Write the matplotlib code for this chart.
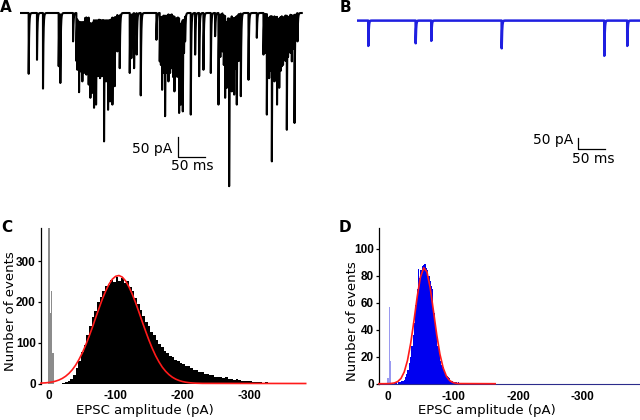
"""Spontaneous EPSC traces (A, B) and amplitude histograms (C, D)."""
import matplotlib.pyplot as plt
import numpy as np

plt.rcParams['font.family'] = 'DejaVu Sans'
plt.rcParams['axes.unicode_minus'] = False

# --- trace A: resolved event onsets (ms) and peak amplitudes (pA)
A_EVENT_MS = [15.8, 30.9, 41.8, 70.3, 73.3, 96.4, 104.2, 107.3, 110.3, 113.3,
              116.4, 120.6, 124.8, 127.9, 130.9, 134.5, 138.2, 141.8, 145.5, 149.1,
              152.7, 156.4, 160.0, 163.6, 167.9, 172.1, 176.9, 181.2, 199.4, 202.4,
              207.3, 212.1, 219.4, 247.9, 253.9, 258.2, 263.6, 269.7, 275.8, 280.6,
              284.8, 289.1, 292.1, 295.8, 300.0, 310.3, 318.2, 325.5, 333.3, 346.7,
              354.5, 360.6, 367.9, 372.7, 375.8, 380.0, 384.8, 389.1, 393.9, 401.2,
              415.2, 430.3, 442.4, 448.5, 452.7, 457.6, 462.4, 467.0, 471.0, 475.8,
              480.0, 484.8, 489.1, 493.9, 498.8, 504.2]
A_EVENT_PA = [152, 117, 189, 133, 175, 71, 142, 198, 146, 171,
              150, 154, 179, 212, 200, 237, 229, 158, 163, 158,
              321, 171, 242, 221, 229, 183, 96, 138, 150, 113,
              138, 104, 206, 67, 121, 192, 258, 171, 138, 196,
              154, 250, 229, 246, 71, 254, 104, 158, 142, 150,
              58, 229, 96, 212, 187, 433, 196, 204, 229, 208,
              167, 62, 104, 254, 163, 371, 171, 229, 187, 133,
              113, 292, 79, 121, 275, 71]
# unresolved events packed inside the bursts
A_BURST_MS = [102.5, 105.8, 108.8, 111.8, 114.9, 118.5, 122.7, 126.4, 129.4, 132.7,
              136.4, 140.0, 143.7, 147.3, 150.9, 154.6, 158.2, 161.8, 165.8, 170.0,
              174.5, 179.0, 256.0, 261.0, 266.6, 272.7, 278.2, 282.7, 287.0, 290.6,
              294.0, 298.0, 364.0, 370.3, 374.2, 378.0, 382.4, 387.0, 391.5, 397.5,
              445.5, 450.6, 455.2, 460.0, 464.7, 469.0, 473.4, 477.9, 482.4, 487.0,
              491.5, 496.3]
A_BURST_PA = [120, 125, 130, 130, 130, 135, 140, 145, 150, 150,
              150, 150, 145, 150, 150, 150, 150, 145, 140, 130,
              90, 80, 130, 150, 150, 150, 160, 160, 160, 160,
              150, 100, 110, 130, 150, 150, 150, 150, 140, 120,
              100, 140, 145, 150, 150, 150, 145, 130, 120, 110,
              100, 90]
A_LENGTH_MS = 512

# --- trace B
B_EVENT_MS = [21.2, 110.1, 139.4, 271.5, 464.0, 507.1]
B_EVENT_PA = [115, 103, 92, 126, 160, 115]
B_LENGTH_MS = 531

# --- histogram C (4 pA bins starting at -20 pA)
C_BIN_START = -20
C_BIN_WIDTH = -4
C_COUNTS = [2, 4, 6, 12, 22, 38, 55, 78, 95, 120,
            140, 162, 178, 200, 212, 226, 238, 242, 255, 248,
            262, 252, 258, 246, 252, 236, 226, 210, 196, 180,
            166, 152, 140, 126, 118, 106, 98, 90, 80, 76,
            68, 66, 58, 55, 50, 48, 44, 42, 38, 34,
            32, 28, 28, 24, 23, 20, 21, 17, 16, 15,
            14, 15, 11, 11, 9, 10, 8, 7, 7, 5,
            6, 4, 4, 3, 3, 2, 3, 2, 1, 2,
            1, 1, 1, 0, 1, 0, 1, 0]
C_NOISE_PA = [0, -2, -4, -6]
C_NOISE_COUNTS = [385, 173, 227, 75]
C_FIT_PA = [12, 5, 0, -5, -10, -15, -20, -25, -30, -35, -40, -45, -50, -55, -60,
            -65, -70, -75, -80, -85, -90, -95, -100, -105, -110, -115, -120, -125,
            -130, -135, -140, -145, -150, -155, -160, -165, -170, -175, -180, -185,
            -190, -195, -200, -205, -210, -215, -220, -230, -385]
C_FIT_N = [1.0, 1.6, 2.5, 3.8, 5.8, 8.6, 12.5, 17.8, 24.8, 33.8, 45, 58.8, 75, 93.8, 115,
           137.3, 161, 184.2, 207, 226.6, 243.5, 255.9, 263, 265, 261, 251.5, 237, 218.9,
           198, 174.9, 151, 128.1, 106, 86, 68, 53, 40, 29.9, 21.8, 15.5,
           10.8, 7.4, 4.9, 3.2, 2.0, 1.3, 0.8, 0.3, 0]

# --- histogram D (2 pA bins starting at -10 pA)
D_BIN_START = -10
D_BIN_WIDTH = -2
D_COUNTS = [0.5, 1, 0, 1, 1, 2, 2, 3, 5, 7,
            10, 15, 20, 28, 36, 45, 58, 70, 85, 78,
            84, 87, 88, 89, 86, 84, 80, 76, 72, 70,
            52, 44, 36, 28, 22, 17, 14, 12, 9, 8,
            6, 5, 4, 2, 2, 1, 1, 1, 0, 1]
D_NOISE_PA = [0, -2, -4.2]
D_NOISE_COUNTS = [4, 57, 17]
D_FIT_PA = [14, 5, 0, -5, -10, -15, -20, -25, -30, -35, -40, -45, -50, -55, -60,
            -65, -70, -75, -80, -85, -90, -95, -100, -105, -110, -165]
D_FIT_N = [0, 0, 0.05, 0.2, 0.56, 1.6, 3.9, 8.7, 17.2, 30.1, 46.7, 64.5, 79, 85.8, 82.8,
           70.9, 53.9, 36.4, 21.8, 11.6, 5.5, 2.3, 0.85, 0.3, 0.1, 0]

W, H = 640, 420
fig = plt.figure(figsize=(W / 100, H / 100), dpi=100)
TICK_FONT = {'family': 'Liberation Sans', 'weight': 'bold', 'size': 8.5}


def px_axes(left, top, right, bottom):
    ax = fig.add_axes([left / W, 1 - bottom / H, (right - left) / W, (bottom - top) / H])
    ax.patch.set_alpha(0)
    return ax


def build_trace(times, amps, length, tau=0.8):
    t = np.arange(0, length, 0.1)
    y = np.zeros_like(t)
    for te, a in zip(times, amps):
        after = t >= te
        y[after] = np.maximum(y[after], a * np.exp(-(t[after] - te) / tau))
    return t, -y


def trace_panel(ax, times, amps, length, color, lw, bar_x, bar_y):
    t, y = build_trace(times, amps, length)
    ax.plot(t, y, color=color, lw=lw)
    ax.plot([bar_x, bar_x, bar_x + 50], [bar_y + 50, bar_y, bar_y],
            color='black', lw=0.9, clip_on=False)
    ax.axis('off')


def hist_panel(ax, start, width, counts, color, noise_x, noise_n, noise_color,
               fit_x, fit_n):
    centres = [start + width * (i + 0.5) for i in range(len(counts))]
    ax.bar(centres, counts, width=abs(width), color=color, linewidth=0)
    ax.bar(noise_x, noise_n, width=2.1, color=noise_color, linewidth=0)
    ax.plot(fit_x, fit_n, color='#ff1a1a', lw=1.2, clip_on=False, zorder=4)
    for side in ('top', 'right', 'bottom'):
        ax.spines[side].set_visible(False)
    ax.spines['left'].set_linewidth(0.9)
    ax.set_xticks([0, -100, -200, -300])
    ax.tick_params(axis='x', length=0, pad=5)
    ax.tick_params(axis='y', length=2.5, width=0.9, pad=1)
    for lab in ax.get_xticklabels() + ax.get_yticklabels():
        lab.set_fontproperties(TICK_FONT)
    ax.set_xlabel('EPSC amplitude (pA)', fontsize=9.5, labelpad=1)
    ax.set_ylabel('Number of events', fontsize=9.5)


# A
axA = px_axes(20, 5, 304, 195)
trace_panel(axA, A_EVENT_MS + A_BURST_MS, A_EVENT_PA + A_BURST_PA, A_LENGTH_MS,
            'black', 1.5, 287, -360)
axA.set_xlim(0, 516)
axA.set_ylim(-455, 20)

# B
axB = px_axes(357, 5, 640, 195)
trace_panel(axB, B_EVENT_MS, B_EVENT_PA, B_LENGTH_MS, '#1f1fe0', 1.8, 415, -583.5)
axB.set_xlim(0, 531)
axB.set_ylim(-793, 71)

# C
axC = px_axes(40.7, 228, 309, 383.5)
axC.set_yticks([0, 100, 200, 300])
hist_panel(axC, C_BIN_START, C_BIN_WIDTH, C_COUNTS, 'black',
           C_NOISE_PA, C_NOISE_COUNTS, '#8c8c8c', C_FIT_PA, C_FIT_N)
axC.set_xlim(12.4, -390)
axC.set_ylim(0, 381.5)
axC.xaxis.set_label_coords(0.39, -0.13)
axC.yaxis.set_label_coords(-0.09, 0.466)

# D
axD = px_axes(378.7, 228, 640, 383.7)
axD.set_yticks([0, 20, 40, 60, 80, 100])
hist_panel(axD, D_BIN_START, D_BIN_WIDTH, D_COUNTS, '#0000f0',
           D_NOISE_PA, D_NOISE_COUNTS, '#9a9af0', D_FIT_PA, D_FIT_N)
axD.spines['bottom'].set_visible(True)
axD.spines['bottom'].set_color('#2c2c8c')
axD.set_xlim(14.3, -388)
axD.set_ylim(0, 115.3)
axD.xaxis.set_label_coords(0.413, -0.13)
axD.yaxis.set_label_coords(-0.077, 0.403)

# scale bar labels and panel letters
fig.text(172 / W, 1 - 148.5 / H, '50 pA', ha='right', va='center', fontsize=10)
fig.text(192 / W, 1 - 166.5 / H, '50 ms', ha='center', va='center', fontsize=10)
fig.text(573 / W, 1 - 140 / H, '50 pA', ha='right', va='center', fontsize=10)
fig.text(593 / W, 1 - 159 / H, '50 ms', ha='center', va='center', fontsize=10)
for letter, x, y in [('A', 6, 7.5), ('B', 345, 7), ('C', 6.5, 228), ('D', 345, 228)]:
    fig.text(x / W, 1 - y / H, letter, ha='center', va='center',
             fontsize=11, fontweight='bold')

fig.savefig('out.png', dpi=100)
